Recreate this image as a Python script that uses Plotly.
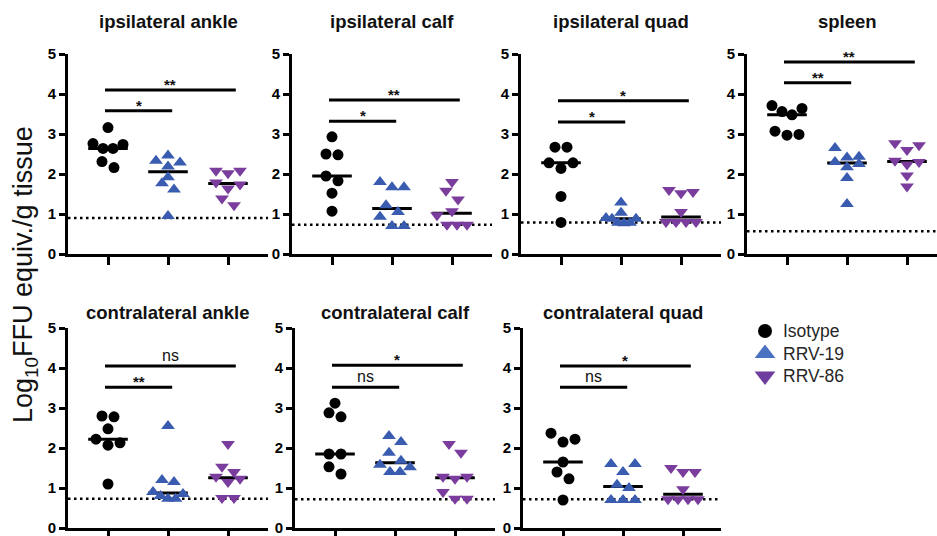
import numpy as np
import plotly.graph_objects as go

# ---- data: log10 FFU equiv./g tissue per mouse ----
GROUPS = ["Isotype", "RRV-19", "RRV-86"]

ipsi_ankle_iso = [3.16, 2.76, 2.64, 2.64, 2.74, 2.16, 2.31]
ipsi_ankle_r19 = [2.33, 2.29, 2.46, 2.19, 1.92, 1.77, 1.61, 0.95]
ipsi_ankle_r86 = [2.08, 2.02, 2.08, 1.74, 1.64, 1.79, 1.39, 1.22]

ipsi_calf_iso = [2.93, 2.50, 2.48, 1.83, 1.95, 1.52, 1.07]
ipsi_calf_r19 = [1.80, 1.67, 1.67, 1.22, 1.05, 0.93, 0.70, 0.70]
ipsi_calf_r86 = [1.80, 1.58, 1.36, 1.07, 0.97, 0.73, 0.73, 0.73]

ipsi_quad_iso = [2.67, 2.67, 2.28, 2.28, 2.14, 1.44, 0.79]
ipsi_quad_r19 = [1.29, 1.03, 0.88, 0.78, 0.77, 0.78, 0.88, 0.90]
ipsi_quad_r86 = [1.55, 1.52, 1.60, 1.05, 0.80, 0.80, 0.80, 0.80]

spleen_iso = [3.71, 3.56, 3.48, 3.64, 3.07, 2.97, 2.99]
spleen_r19 = [2.65, 2.41, 2.43, 2.30, 2.25, 2.17, 1.90, 1.25]
spleen_r86 = [2.77, 2.60, 2.72, 2.30, 2.24, 2.33, 1.96, 1.69]

contra_ankle_iso = [2.80, 2.78, 2.48, 2.13, 2.07, 2.22, 1.10]
contra_ankle_r19 = [2.55, 1.20, 1.15, 0.90, 0.80, 0.73, 0.73, 0.85]
contra_ankle_r86 = [2.10, 1.53, 1.40, 1.23, 1.15, 1.28, 0.75, 0.75]

contra_calf_iso = [3.12, 2.78, 2.88, 1.85, 1.85, 1.35, 1.53]
contra_calf_r19 = [2.30, 2.15, 1.88, 1.68, 1.52, 1.40, 1.40, 1.58]
contra_calf_r86 = [2.10, 1.88, 1.28, 1.23, 1.28, 0.90, 0.73, 0.73]

contra_quad_iso = [2.37, 2.22, 2.15, 1.65, 1.40, 1.23, 0.70]
contra_quad_r19 = [1.60, 1.60, 1.40, 1.08, 1.00, 0.70, 0.70, 0.70]
contra_quad_r86 = [1.40, 1.40, 1.50, 0.97, 0.72, 0.72, 0.72, 0.72]

titles = ["ipsilateral ankle", "ipsilateral calf", "ipsilateral quad", "spleen",
          "contralateral ankle", "contralateral calf", "contralateral quad"]
detection_limits = [0.90, 0.73, 0.79, 0.57, 0.73, 0.72, 0.72]
# significance: [Isotype vs RRV-19, Isotype vs RRV-86]
significance = [["*", "**"], ["*", "**"], ["*", "*"], ["**", "**"],
                ["**", "ns"], ["ns", "*"], ["ns", "*"]]

tissues = [
    [ipsi_ankle_iso, ipsi_ankle_r19, ipsi_ankle_r86],
    [ipsi_calf_iso, ipsi_calf_r19, ipsi_calf_r86],
    [ipsi_quad_iso, ipsi_quad_r19, ipsi_quad_r86],
    [spleen_iso, spleen_r19, spleen_r86],
    [contra_ankle_iso, contra_ankle_r19, contra_ankle_r86],
    [contra_calf_iso, contra_calf_r19, contra_calf_r86],
    [contra_quad_iso, contra_quad_r19, contra_quad_r86],
]

# ---- styling / layout ----
W, H = 937, 536
COLORS = ["#000000", "#3a5cb0", "#7a3d9d"]
LEGEND_COLORS = ["#000000", "#4a72c0", "#6f3d9e"]
SYMBOLS = ["circle", "triangle-up", "triangle-down"]
SIZES = [11, 12, 12]
FONT = "Liberation Sans, Arial, Helvetica, sans-serif"
PX_PER_CAT = 60.0
X_LEFT = 1 - 40 / PX_PER_CAT

# subplot frames in pixels: (left, right, y of 0, y of 5)
frames = [(68, 268, 254, 54), (292, 492, 254, 54), (521, 721, 254, 54), (747, 937, 254, 54),
          (68, 268, 528, 328), (295, 495, 528, 328), (523, 721, 528, 328)]
# heights of the comparison bars (short, long) in axis units
bar_levels = [(3.58, 4.10), (3.32, 3.85), (3.30, 3.83), (4.28, 4.80),
              (3.52, 4.05), (3.52, 4.07), (3.52, 4.05)]


def swarm(vals, tol=0.24, max_step=0.2, max_half_width=0.25):
    """Spread points that share a value band into a centred row."""
    vals = np.asarray(vals, dtype=float)
    order = np.argsort(vals, kind="stable")
    rows = []
    for i in order:
        if rows and vals[i] - vals[rows[-1][0]] <= tol:
            rows[-1].append(i)
        else:
            rows.append([i])
    off = np.zeros(len(vals))
    for row in rows:
        n = len(row)
        step = max_step if n < 3 else min(max_step, 2 * max_half_width / (n - 1))
        if n % 2:
            slots = [0] + [s for k in range(1, n // 2 + 1) for s in (k, -k)]
        else:
            slots = [s for k in range(n // 2) for s in (k + 0.5, -(k + 0.5))]
        for i, s in zip(row, slots):
            off[i] = s * step
    return off


def ax_ids(n):
    suffix = "" if n == 1 else str(n)
    return f"xaxis{suffix}", f"yaxis{suffix}", f"x{suffix}", f"y{suffix}"


fig = go.Figure()
layout = dict(
    template="none",
    width=W, height=H, autosize=False, margin=dict(l=0, r=0, t=0, b=0, pad=0),
    paper_bgcolor="white", plot_bgcolor="rgba(0,0,0,0)", showlegend=False,
    font=dict(family=FONT, color="black"),
)
shapes, annotations = [], []

for p, (groups, frame) in enumerate(zip(tissues, frames)):
    xa, ya, xr, yr = ax_ids(p + 1)
    left, right, y0px, y5px = frame
    layout[xa] = dict(
        domain=[left / W, right / W], range=[X_LEFT, X_LEFT + (right - left) / PX_PER_CAT],
        showgrid=False, zeroline=False, showline=True, linecolor="black", linewidth=3,
        ticks="outside", tickvals=[1, 2, 3], ticklen=8, tickwidth=2.5, tickcolor="black",
        showticklabels=False, anchor=yr, fixedrange=True, automargin=False,
    )
    layout[ya] = dict(
        domain=[1 - y0px / H, 1 - y5px / H], range=[0, 5],
        showgrid=False, zeroline=False, showline=True, linecolor="black", linewidth=3,
        ticks="outside", tickvals=[0, 1, 2, 3, 4, 5], ticklen=6, tickwidth=2.5, tickcolor="black",
        tickfont=dict(size=15, family=FONT, weight="bold", color="black"),
        ticklabeloverflow="allow",
        anchor=xr, fixedrange=True, automargin=False,
    )

    # limit of detection
    shapes.append(dict(type="line", xref=f"{xr} domain", yref=yr, x0=0, x1=1,
                       y0=detection_limits[p], y1=detection_limits[p],
                       line=dict(color="black", width=2.5, dash="2.5px,3.5px"), layer="below"))

    for g, vals in enumerate(groups):
        cat = g + 1
        med = float(np.median(vals))
        fig.add_trace(go.Scatter(
            x=[cat - 0.33, cat + 0.33], y=[med, med], mode="lines",
            line=dict(color="black", width=3), xaxis=xr, yaxis=yr, hoverinfo="skip"))
        fig.add_trace(go.Scatter(
            x=cat + swarm(vals), y=vals, mode="markers", name=GROUPS[g],
            marker=dict(symbol=SYMBOLS[g], size=SIZES[g], color=COLORS[g],
                        line=dict(width=0)),
            xaxis=xr, yaxis=yr, cliponaxis=False))

    # comparison bars
    for (x_end, level, label) in zip((2.07, 3.13), bar_levels[p], significance[p]):
        shapes.append(dict(type="line", xref=xr, yref=yr, x0=0.95, x1=x_end,
                           y0=level, y1=level, line=dict(color="black", width=3)))
        if label == "ns":
            font = dict(size=16, family=FONT, color="#111")
            shift = 0
        else:
            font = dict(size=15, family=FONT, weight="bold", color="#111")
            shift = -5
        annotations.append(dict(text=label, xref=xr, yref=yr, x=(0.95 + x_end) / 2,
                                y=level, yanchor="bottom", yshift=shift,
                                showarrow=False, font=font))

    # panel title, centred on the middle group
    title_y = 22 if y0px < 300 else 312
    annotations.append(dict(text=titles[p], xref=xr, yref="paper", x=2, y=1 - title_y / H,
                            yanchor="middle", showarrow=False,
                            font=dict(size=18.5, family=FONT, weight="bold", color="#111")))

# shared y-axis title
annotations.append(dict(text="Log<sub>10</sub>FFU equiv./g tissue", xref="paper", yref="paper",
                        x=25 / W, y=1 - 275 / H, textangle=-90, showarrow=False,
                        xanchor="center", yanchor="middle",
                        font=dict(size=27, family=FONT, color="#111")))

# panel letter
annotations.append(dict(text="B", xref="paper", yref="paper", x=6 / W, y=1 - 7 / H,
                        xanchor="left", yanchor="bottom", showarrow=False,
                        font=dict(size=26, family=FONT, weight="bold", color="#111")))

# legend: its own small pixel-scaled axis box
LX0, LX1, LY0, LY1 = 740, 900, 310, 395
layout["xaxis8"] = dict(domain=[LX0 / W, LX1 / W], range=[LX0, LX1], visible=False,
                        fixedrange=True, anchor="y8", automargin=False)
layout["yaxis8"] = dict(domain=[1 - LY1 / H, 1 - LY0 / H], range=[LY1, LY0], visible=False,
                        fixedrange=True, anchor="x8", automargin=False)
leg_y = [331 + 22.5 * i for i in range(len(GROUPS))]
for g, name in enumerate(GROUPS):
    fig.add_trace(go.Scatter(
        x=[765], y=[leg_y[g]], mode="markers", xaxis="x8", yaxis="y8",
        marker=dict(symbol=SYMBOLS[g], size=[14, 18, 18][g], color=LEGEND_COLORS[g],
                    line=dict(width=0)), hoverinfo="skip", cliponaxis=False))
    annotations.append(dict(text=name, xref="x8", yref="y8", x=781, y=leg_y[g],
                            xanchor="left", yanchor="middle", showarrow=False,
                            font=dict(size=17.5, family=FONT, color="#262626")))

layout["shapes"] = shapes
layout["annotations"] = annotations
fig.update_layout(**layout)

# page without the default body margin so the figure sits at the window origin
fig.write_html(
    "out.html",
    config={"displayModeBar": False},
    post_script="document.body.style.margin='0';document.body.style.overflow='hidden';",
)
